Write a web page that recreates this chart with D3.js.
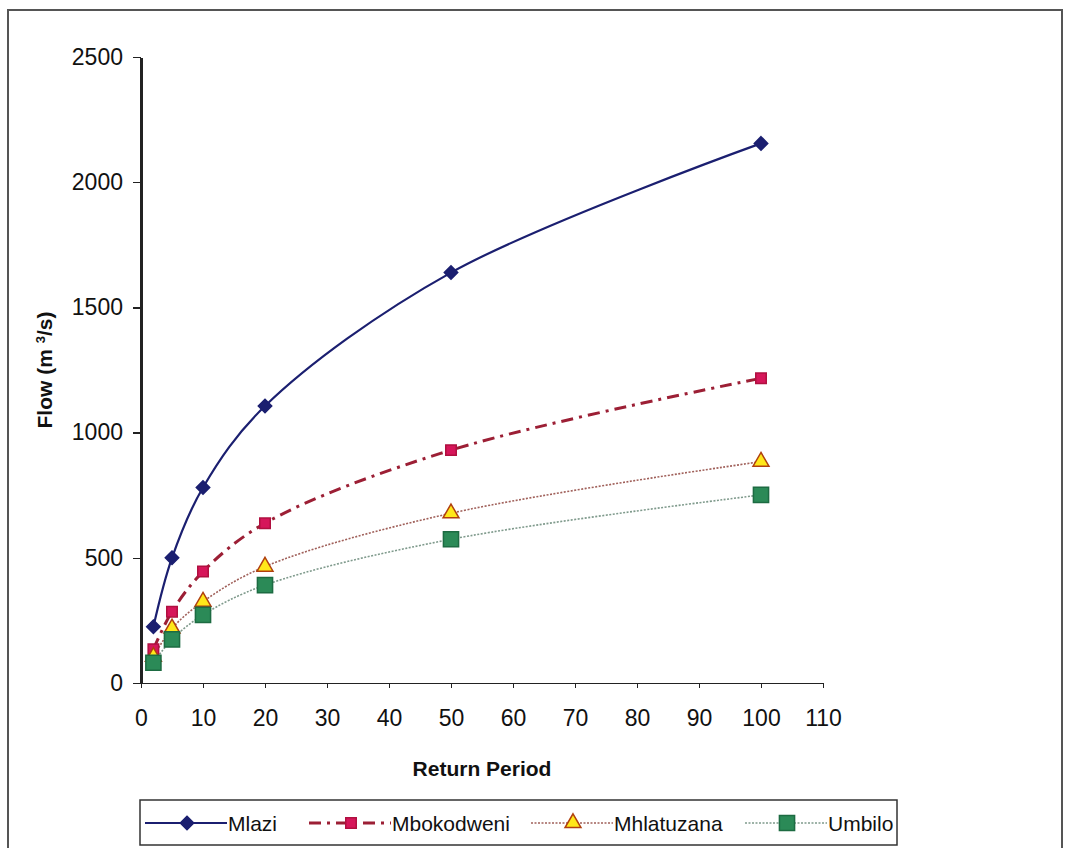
<!DOCTYPE html>
<html lang="en">
<head>
  <meta charset="UTF-8">
  <title>Flow vs Return Period</title>
  <script src="https://d3js.org/d3.v7.min.js"></script>
  <style>
    body { margin: 0; background: #fff; }
    svg { font-family: "Liberation Sans", Arial, sans-serif; }
    .axis path, .axis line { stroke: #222; shape-rendering: crispEdges; }
    .axis text { font-size: 23px; fill: #111; }
    .title { font-weight: bold; font-size: 21px; fill: #111; }
    .legend text { font-size: 21px; fill: #111; }
  </style>
</head>
<body>
  <svg width="1067" height="848"></svg>

  <script>
    const returnPeriods = [2, 5, 10, 20, 50, 100];
    const mlazi = [225, 500, 781, 1106, 1639, 2155];
    const mbokodweni = [135, 285, 445, 638, 930, 1217];
    const mhlatuzana = [105, 218, 325, 465, 678, 884];
    const umbilo = [81, 174, 272, 391, 574, 751];
    const xTicks = [0, 10, 20, 30, 40, 50, 60, 70, 80, 90, 100, 110];
    const yTicks = [0, 500, 1000, 1500, 2000, 2500];

    const series = [
      { name: 'Mlazi', values: mlazi, line: '#1b1f70', width: 2.2, dash: null, marker: 'diamond', fill: '#1b1f70', stroke: '#1b1f70', size: 90 },
      { name: 'Mbokodweni', values: mbokodweni, line: '#9c1f35', width: 3, dash: '12,6,3,6', marker: 'square', fill: '#d6165a', stroke: '#b01040', size: 110 },
      { name: 'Mhlatuzana', values: mhlatuzana, line: '#a0605a', width: 1.6, dash: '2,1.5', marker: 'triangle', fill: '#ffe81a', stroke: '#b0400f', size: 110 },
      { name: 'Umbilo', values: umbilo, line: '#7f9a8c', width: 1.6, dash: '2,1.5', marker: 'square', fill: '#2b8a57', stroke: '#1d6b42', size: 230 }
    ];

    const svg = d3.select('svg');

    // outer chart frame
    svg.append('path')
      .attr('d', 'M8,848 L8,10 L1062,10 L1062,848')
      .attr('fill', 'none')
      .attr('stroke', '#555')
      .attr('stroke-width', 2);

    const x = d3.scaleLinear().domain([0, 110]).range([141, 823]);
    const y = d3.scaleLinear().domain([0, 2500]).range([683, 57]);

    svg.append('g')
      .attr('class', 'axis')
      .attr('transform', 'translate(0,683)')
      .call(d3.axisBottom(x).tickValues(xTicks).tickSize(5).tickPadding(22).tickSizeOuter(0))
      .call(g => g.select('.domain').attr('stroke-width', 1.5));

    svg.append('g')
      .attr('class', 'axis')
      .attr('transform', 'translate(141,0)')
      .call(d3.axisLeft(y).tickValues(yTicks).tickFormat(d3.format('d')).tickSize(8).tickPadding(10).tickSizeOuter(0))
      .call(g => g.select('.domain').attr('stroke-width', 2.5).attr('stroke', '#444'))
      .call(g => g.selectAll('.tick line').attr('stroke-width', 1.5));

    svg.append('text')
      .attr('class', 'title')
      .attr('x', 482)
      .attr('y', 776)
      .attr('text-anchor', 'middle')
      .text('Return Period');

    const yl = svg.append('text')
      .attr('class', 'title')
      .attr('transform', 'translate(52,370) rotate(-90)')
      .attr('text-anchor', 'middle');
    yl.append('tspan').text('Flow (m ');
    yl.append('tspan').attr('baseline-shift', 'super').attr('font-size', 13).text('3');
    yl.append('tspan').text('/s)');

    // square diamond (rotated square) like the spreadsheet marker
    const rhombus = {
      draw(ctx, size) {
        const r = Math.sqrt(size / 2);
        ctx.moveTo(0, -r); ctx.lineTo(r, 0); ctx.lineTo(0, r); ctx.lineTo(-r, 0); ctx.closePath();
      }
    };
    const symbolType = { diamond: rhombus, square: d3.symbolSquare, triangle: d3.symbolTriangle };

    const line = d3.line()
      .x((d, i) => x(returnPeriods[i]))
      .y(d => y(d))
      .curve(d3.curveCatmullRom.alpha(0.5));

    series.forEach(s => {
      svg.append('path')
        .datum(s.values)
        .attr('d', line)
        .attr('fill', 'none')
        .attr('stroke', s.line)
        .attr('stroke-width', s.width)
        .attr('stroke-dasharray', s.dash);
    });

    series.forEach(s => {
      svg.selectAll(null)
        .data(s.values)
        .enter()
        .append('path')
        .attr('transform', (d, i) => `translate(${x(returnPeriods[i])},${y(d)})`)
        .attr('d', d3.symbol(symbolType[s.marker], s.size))
        .attr('fill', s.fill)
        .attr('stroke', s.stroke)
        .attr('stroke-width', 1.5);
    });

    // legend
    const legend = svg.append('g').attr('class', 'legend');
    legend.append('rect')
      .attr('x', 140).attr('y', 800)
      .attr('width', 757).attr('height', 45)
      .attr('fill', '#fff')
      .attr('stroke', '#333')
      .attr('stroke-width', 1.5);

    const legendX = [141, 305, 527, 741];
    series.forEach((s, i) => {
      const lx = legendX[i];
      const ly = 823;
      legend.append('line')
        .attr('x1', lx + 4).attr('x2', lx + 86)
        .attr('y1', ly).attr('y2', ly)
        .attr('stroke', s.line)
        .attr('stroke-width', s.width)
        .attr('stroke-dasharray', s.dash);
      legend.append('path')
        .attr('transform', `translate(${lx + 46},${ly})`)
        .attr('d', d3.symbol(symbolType[s.marker], s.size))
        .attr('fill', s.fill)
        .attr('stroke', s.stroke)
        .attr('stroke-width', 1.5);
      legend.append('text')
        .attr('x', lx + 87)
        .attr('y', ly)
        .attr('dy', '0.36em')
        .text(s.name);
    });
  </script>
</body>
</html>
